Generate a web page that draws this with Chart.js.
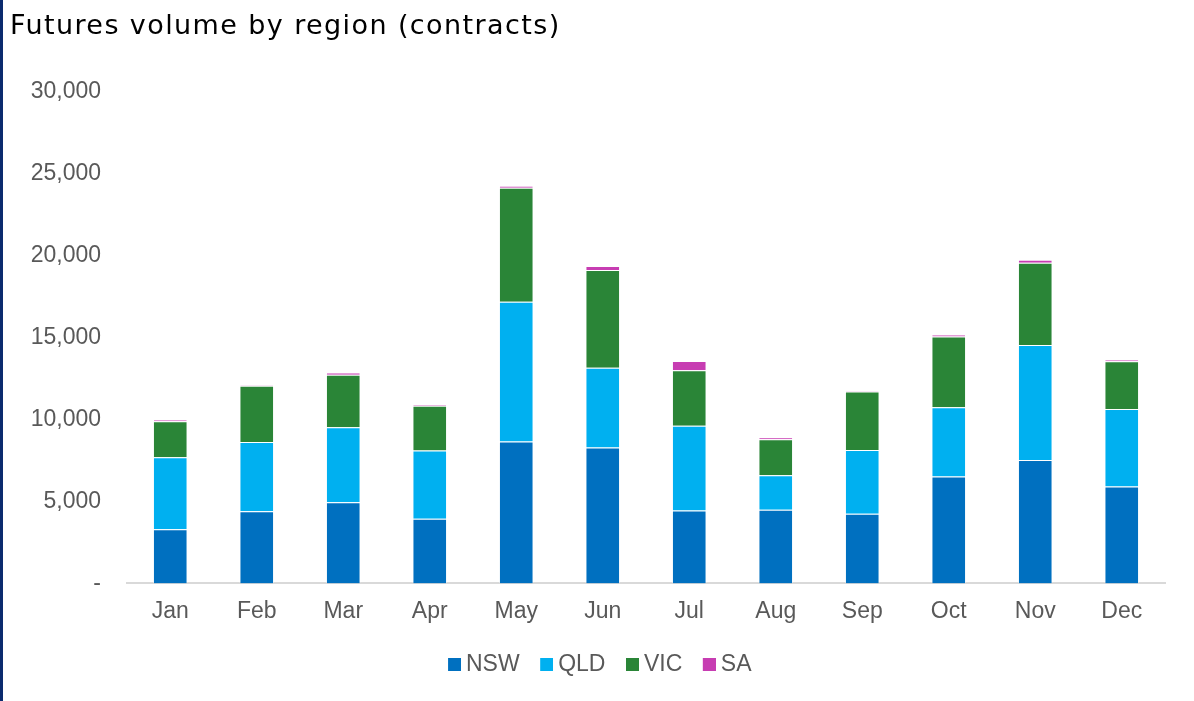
<!DOCTYPE html>
<html>
<head>
<meta charset="utf-8">
<script src="https://cdn.jsdelivr.net/npm/chart.js@4.4.1/dist/chart.umd.min.js"></script>
<style>
  html, body { margin: 0; padding: 0; background: #fff; }
  body { width: 1194px; height: 701px; overflow: hidden; position: relative; }
  #bar { position: absolute; left: 0; top: 0; width: 3px; height: 701px; background: #0b2a6e; }
  #titulo { position: absolute; left: 10px; top: 11px; font-family: 'DejaVu Sans', sans-serif;
            font-size: 27px; line-height: 27px; letter-spacing: 1.4px; color: #000; white-space: nowrap; }
  #wrap { position: absolute; left: 0; top: 0; width: 1194px; height: 701px; }
</style>
</head>
<body>
<div id="bar"></div>
<div id="wrap"><canvas id="grafico"></canvas></div>
<div id="titulo">Futures volume by region (contracts)</div>
<script>
// Dados
const meses = ['Jan', 'Feb', 'Mar', 'Apr', 'May', 'Jun', 'Jul', 'Aug', 'Sep', 'Oct', 'Nov', 'Dec'];
const nsw = [3300, 4410, 4950, 3950, 8660, 8290, 4450, 4490, 4250, 6520, 7540, 5910];
const qld = [4400, 4230, 4580, 4160, 8540, 4880, 5170, 2110, 3900, 4230, 7010, 4740];
const vic = [2200, 3430, 3210, 2730, 6960, 5960, 3390, 2200, 3560, 4330, 5020, 2910];
const sa  = [100, 30, 130, 70, 110, 240, 570, 120, 40, 100, 190, 100];
const ticksY = [0, 5000, 10000, 15000, 20000, 25000, 30000];

const corTexto = '#595959';
const fonteEixo = { family: "'Liberation Sans', Arial, sans-serif", size: 23 };
const cores = ['#0070c0', '#00b0f0', '#2a8537', '#c73db2'];

// quadrado da legenda desenhado à direita de uma imagem maior (aproxima o texto)
function quadradoLegenda(cor) {
    const c = document.createElement('canvas');
    c.width = 26;
    c.height = 13;
    const ctx = c.getContext('2d');
    ctx.fillStyle = cor;
    ctx.fillRect(13, 0, 13, 13);
    return c;
}

function serie(nome, valores, cor) {
    return {
        label: nome,
        data: valores,
        backgroundColor: cor,
        borderColor: 'rgba(255,255,255,0.45)',
        borderWidth: 1,
        barPercentage: 0.4,
        categoryPercentage: 1.0
    };
}

new Chart(document.getElementById('grafico'), {
    type: 'bar',
    data: {
        labels: meses,
        datasets: [
            serie('NSW', nsw, cores[0]),
            serie('QLD', qld, cores[1]),
            serie('VIC', vic, cores[2]),
            serie('SA', sa, cores[3])
        ]
    },
    options: {
        responsive: true,
        maintainAspectRatio: false,
        animation: false,
        layout: { padding: { left: 28, right: 29, top: 92, bottom: 15 } },
        plugins: {
            title: { display: false },
            legend: {
                position: 'bottom',
                labels: {
                    color: corTexto,
                    font: fonteEixo,
                    boxWidth: 13,
                    boxHeight: 13,
                    usePointStyle: true,
                    padding: 14,
                    generateLabels: function (chart) {
                        const itens = Chart.defaults.plugins.legend.labels.generateLabels(chart);
                        itens.forEach((it, i) => { it.pointStyle = quadradoLegenda(cores[i]); });
                        return itens;
                    }
                }
            },
            tooltip: { enabled: false }
        },
        scales: {
            x: {
                stacked: true,
                grid: { display: false, drawTicks: false },
                border: { display: true, color: '#d9d9d9', width: 2 },
                ticks: { color: corTexto, font: fonteEixo, padding: 14 }
            },
            y: {
                stacked: true,
                min: 0,
                max: 30000,
                afterBuildTicks: function (eixo) {
                    eixo.ticks = ticksY.map(v => ({ value: v }));
                },
                afterFit: function (eixo) {
                    eixo.width = 99;
                },
                grid: { display: false, drawTicks: false },
                border: { display: false },
                ticks: {
                    color: corTexto,
                    font: fonteEixo,
                    padding: 26,
                    callback: function (v) {
                        return v === 0 ? '-' : v.toLocaleString('en-US');
                    }
                }
            }
        }
    }
});
</script>
</body>
</html>
